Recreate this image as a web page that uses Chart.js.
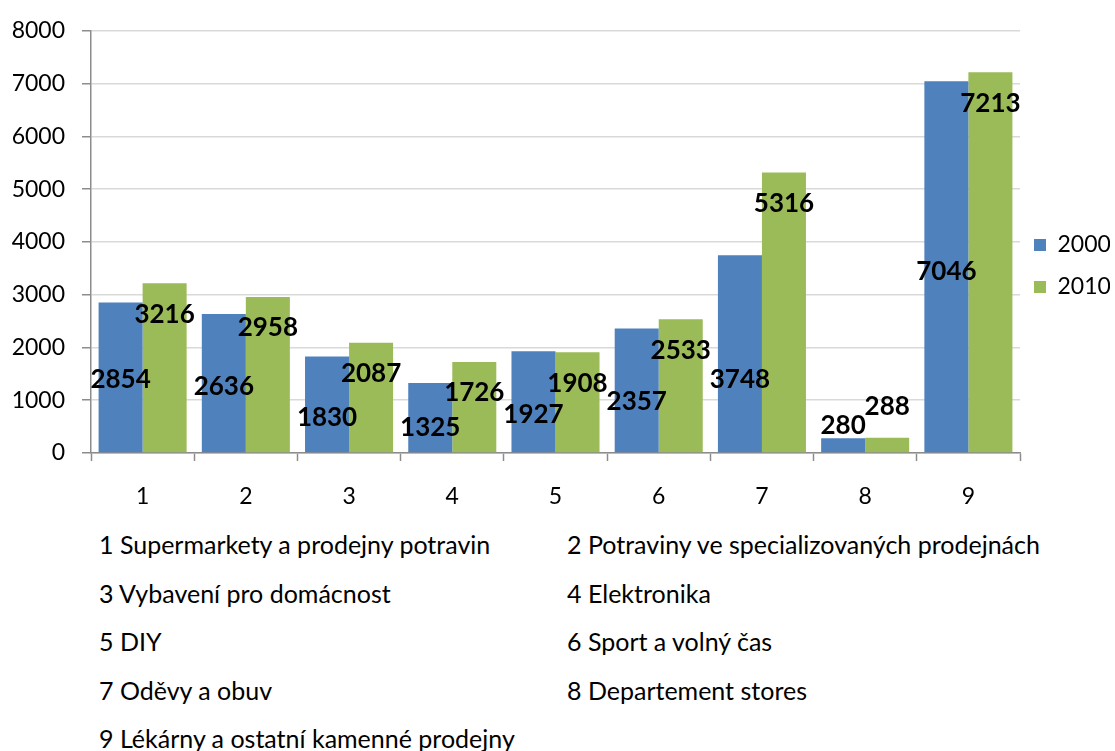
<!DOCTYPE html>
<html>
<head>
<meta charset="utf-8">
<script src="https://cdn.jsdelivr.net/npm/chart.js@4.4.1/dist/chart.umd.min.js"></script>
<style>
    html, body {
        margin: 0;
        padding: 0;
        background: #ffffff;
    }
    #wrap {
        position: relative;
        width: 1115px;
        height: 751px;
        overflow: hidden;
        font-family: Lato, "Liberation Sans", sans-serif;
    }
    #chart {
        display: block;
    }
    #category-list .item {
        position: absolute;
        font-size: 25px;
        line-height: 48px;
        color: #000000;
        white-space: nowrap;
    }
</style>
</head>
<body>
<div id="wrap">
    <canvas id="chart" width="1115" height="506"></canvas>
    <div id="category-list"></div>
</div>
<script>
    // categories on the x axis and what each number stands for
    const categories = ["1", "2", "3", "4", "5", "6", "7", "8", "9"];
    const categoryNames = [
        "Supermarkety a prodejny potravin",
        "Potraviny ve specializovaných prodejnách",
        "Vybavení pro domácnost",
        "Elektronika",
        "DIY",
        "Sport a volný čas",
        "Oděvy a obuv",
        "Departement stores",
        "Lékárny a ostatní kamenné prodejny",
    ];

    const seriesNames = ["2000", "2010"];
    const values2000 = [2854, 2636, 1830, 1325, 1927, 2357, 3748, 280, 7046];
    const values2010 = [3216, 2958, 2087, 1726, 1908, 2533, 5316, 288, 7213];

    const yTicks = [0, 1000, 2000, 3000, 4000, 5000, 6000, 7000, 8000];

    const fontFamily = "Lato, 'Liberation Sans', sans-serif";

    // value labels: shift in px from the top of each bar
    const labelShift = [
        [77, 73, 61, 45, 63, 73, 124, -13, 190],
        [31, 31, 31, 31, 31, 31, 31, -31, 31],
    ];

    const valueLabels = {
        id: "valueLabels",
        afterDatasetsDraw(chart) {
            let ctx = chart.ctx;
            ctx.save();
            ctx.font = "bold 26px " + fontFamily;
            ctx.fillStyle = "#000000";
            ctx.textAlign = "center";
            ctx.textBaseline = "middle";
            chart.data.datasets.forEach(function (ds, i) {
                let meta = chart.getDatasetMeta(i);
                meta.data.forEach(function (bar, j) {
                    ctx.fillText(String(ds.data[j]), bar.x, bar.y + labelShift[i][j]);
                });
            });
            ctx.restore();
        },
    };

    // pull the legend a little closer to the plot
    const legendNudge = {
        id: "legendNudge",
        afterLayout(chart) {
            if (chart.legend) {
                chart.legend.left -= 5;
                chart.legend.right -= 5;
            }
        },
    };

    let canvas = document.getElementById("chart");

    let myChart = new Chart(canvas, {
        type: "bar",
        data: {
            labels: categories,
            datasets: [
                {
                    label: seriesNames[0],
                    data: values2000,
                    backgroundColor: "#4f81bd",
                    categoryPercentage: 0.853,
                    barPercentage: 1.0,
                },
                {
                    label: seriesNames[1],
                    data: values2010,
                    backgroundColor: "#9bbb59",
                    categoryPercentage: 0.853,
                    barPercentage: 1.0,
                },
            ],
        },
        options: {
            responsive: false,
            animation: false,
            layout: {
                padding: { top: 26, right: 0, bottom: 0, left: 0 },
            },
            plugins: {
                tooltip: { enabled: false },
                legend: {
                    position: "right",
                    align: "center",
                    maxWidth: 95,
                    labels: {
                        boxWidth: 12,
                        boxHeight: 12,
                        padding: 19,
                        color: "#000000",
                        font: { family: fontFamily, size: 23 },
                    },
                },
            },
            scales: {
                x: {
                    afterFit: function (scale) {
                        scale.height = 53;
                    },
                    grid: {
                        offset: true,
                        drawOnChartArea: false,
                        drawTicks: true,
                        tickLength: 8,
                        tickColor: "#8c8c8c",
                        tickWidth: 1.5,
                    },
                    border: { color: "#8c8c8c", width: 1.5 },
                    ticks: {
                        padding: 22,
                        color: "#000000",
                        font: { family: fontFamily, size: 23 },
                    },
                },
                y: {
                    min: 0,
                    max: 8000,
                    afterFit: function (scale) {
                        scale.width = 91;
                    },
                    afterBuildTicks: function (scale) {
                        scale.ticks = yTicks.map(function (v) {
                            return { value: v };
                        });
                    },
                    grid: {
                        color: "#d9d9d9",
                        lineWidth: 1.5,
                        tickLength: 9,
                        tickColor: "#8c8c8c",
                        tickWidth: 1.5,
                    },
                    border: { color: "#8c8c8c", width: 1.5 },
                    ticks: {
                        padding: 17,
                        color: "#000000",
                        font: { family: fontFamily, size: 23 },
                        callback: function (value) {
                            return String(value);
                        },
                    },
                },
            },
        },
        plugins: [valueLabels, legendNudge],
    });

    // numbered list of category names under the chart, two per row
    let list = document.getElementById("category-list");
    categoryNames.forEach(function (name, i) {
        let item = document.createElement("div");
        item.className = "item";
        item.textContent = categories[i] + " " + name;
        item.style.left = (i % 2 === 0 ? 99 : 567) + "px";
        item.style.top = (520 + Math.floor(i / 2) * 48.5) + "px";
        list.appendChild(item);
    });
</script>
</body>
</html>
